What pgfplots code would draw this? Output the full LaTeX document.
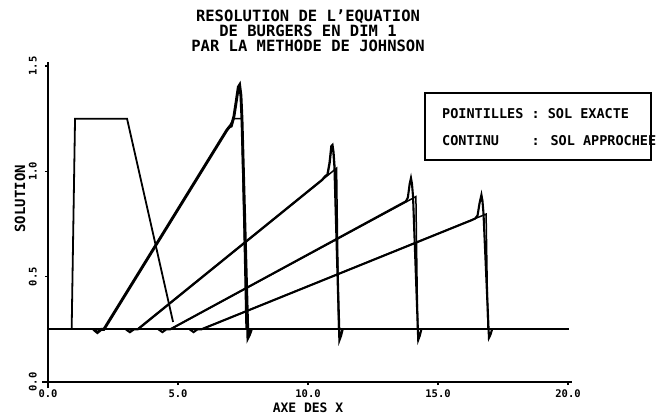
\documentclass[border=0pt]{standalone}
\usepackage{pgfplots}
\pgfplotsset{compat=1.18}
\usepackage{fontspec}
\setmainfont{DejaVu Sans Mono}
\begin{document}
\begin{tikzpicture}[x=1pt,y=1pt]
\path[use as bounding box] (0,0) rectangle (659,418);
\begin{axis}[
  at={(48pt,36pt)}, anchor=south west,
  scale only axis, width=520pt, height=316pt,
  xmin=0, xmax=20, ymin=0, ymax=1.5,
  axis lines=left,
  axis line style={line width=1.8pt, -, shorten <=-6pt, shorten >=-4pt},
  clip=false,
  xtick={0,5,10,15,20},
  xticklabels={0.0,5.0,10.0,15.0,20.0},
  ytick={0,0.5,1,1.5},
  yticklabels={0.0,0.5,1.0,1.5},
  tick align=outside,
  major tick length=3pt,
  every tick/.style={black, line width=1.4pt},
  xticklabel style={font=\bfseries\fontsize{10.5}{10.5}\selectfont, anchor=north, inner sep=0pt, yshift=-5pt},
  yticklabel style={font=\bfseries\fontsize{10.5}{10.5}\selectfont, rotate=90, anchor=south, inner sep=8pt},
  every axis y label/.style={at={(rel axis cs:0,0.58)}, xshift=-28pt, rotate=90, anchor=center, font=\bfseries\fontsize{14}{14}\selectfont},
  every axis x label/.style={at={(rel axis cs:0.5,0)}, anchor=north, yshift=-21pt, inner sep=0pt, font=\bfseries\fontsize{13}{13}\selectfont},
  every axis title/.style={at={(rel axis cs:0.5,1)}, anchor=south, yshift=14pt, inner sep=0pt, align=center, font=\bfseries\fontsize{15.5}{15}\selectfont},
  title={RESOLUTION DE L'EQUATION\\DE BURGERS EN DIM 1\\PAR LA METHODE DE JOHNSON},
  xlabel={AXE DES X},
  ylabel={SOLUTION},
]
% baseline
\addplot[black, line width=1.8pt] coordinates {(0,0.25)(20.05,0.25)};
% initial condition
\addplot[black, line width=1.8pt] coordinates {(0.91,0.25)(1.04,1.25)(3.04,1.25)(4.81,0.285)};
% exact solutions
\addplot[black, line width=1.5pt] coordinates {(2.15,0.25)(7.15,1.25)(7.45,1.25)(7.62,0.25)};
\addplot[black, line width=1.5pt] coordinates {(3.45,0.25)(11.1,1.015)(11.18,0.25)};
\addplot[black, line width=1.5pt] coordinates {(4.7,0.25)(14.15,0.88)(14.22,0.25)};
\addplot[black, line width=1.5pt] coordinates {(5.9,0.25)(16.85,0.797)(16.92,0.25)};
% approximate solutions
\addplot[black, line width=2.9pt] coordinates {(1.75,0.25)(1.9,0.235)(2.05,0.25)(2.15,0.25)(6.88,1.196)(6.97,1.21)(7.05,1.215)(7.15,1.26)(7.25,1.34)(7.32,1.40)(7.37,1.41)(7.42,1.36)(7.46,1.25)(7.69,0.21)(7.75,0.225)(7.82,0.25)};
\addplot[black, line width=2.3pt] coordinates {(3.0,0.25)(3.15,0.237)(3.3,0.25)(3.45,0.25)(10.54,0.959)(10.65,0.975)(10.75,0.985)(10.83,1.04)(10.9,1.12)(10.94,1.125)(10.98,1.09)(11.02,1.02)(11.21,0.2)(11.27,0.22)(11.33,0.25)};
\addplot[black, line width=2.1pt] coordinates {(4.25,0.25)(4.4,0.237)(4.55,0.25)(4.7,0.25)(13.65,0.85)(13.76,0.857)(13.84,0.875)(13.91,0.94)(13.96,0.968)(14.0,0.94)(14.04,0.88)(14.24,0.2)(14.3,0.22)(14.36,0.25)};
\addplot[black, line width=2.1pt] coordinates {(5.45,0.25)(5.6,0.237)(5.75,0.25)(5.9,0.25)(16.31,0.769)(16.43,0.776)(16.52,0.79)(16.6,0.85)(16.67,0.888)(16.71,0.86)(16.75,0.80)(16.96,0.21)(17.02,0.225)(17.08,0.25)};
\end{axis}
\draw[line width=1.8pt] (425,258) rectangle (651,325);
\node[anchor=base west, inner sep=0pt, font=\bfseries\fontsize{13.5}{13.5}\selectfont] at (442,299) {POINTILLES : SOL EXACTE};
\node[anchor=base west, inner sep=0pt, font=\bfseries\fontsize{13.5}{13.5}\selectfont] at (442,272) {CONTINU\phantom{XXX} : SOL APPROCHEE};
\end{tikzpicture}
\end{document}
